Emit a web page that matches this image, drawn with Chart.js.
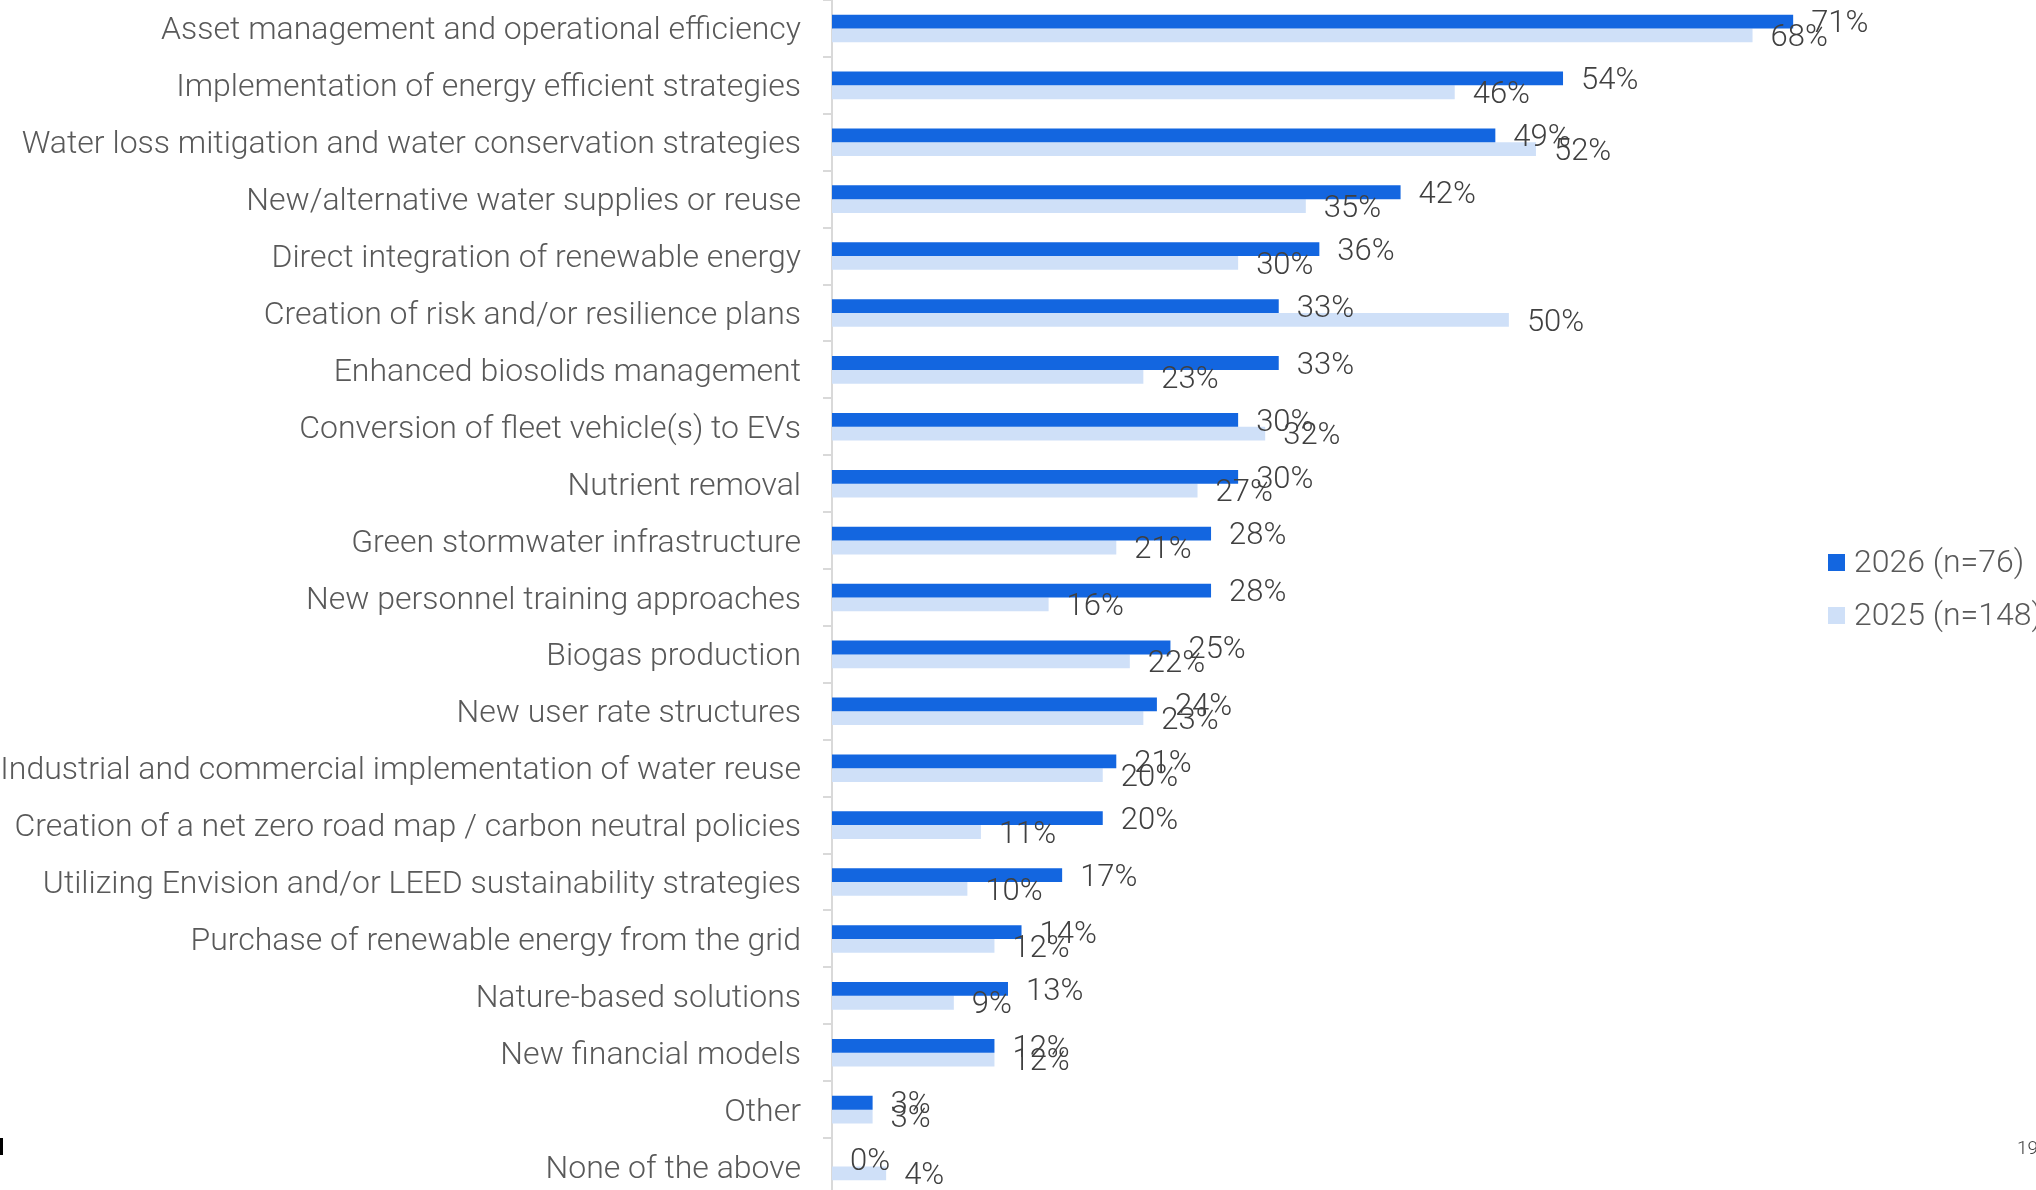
<!DOCTYPE html>
<html><head><meta charset="utf-8">
<script src="https://cdn.jsdelivr.net/npm/chart.js@4.4.1/dist/chart.umd.min.js"></script>
<style>
html,body{margin:0;padding:0;background:#fff;overflow:hidden;width:2036px;height:1190px}
#wrap{position:relative;width:2036px;height:1190px;overflow:hidden}
#c{position:absolute;left:0;top:0}
#pg{position:absolute;left:2017px;top:1136px;font:300 19px Roboto;color:#404040}
#mk{position:absolute;left:0;top:1138px;width:3px;height:17px;background:#000}
</style></head><body>
<div id="wrap"><canvas id="c" width="2036" height="1195"></canvas><div id="mk"></div><div id="pg">19</div></div>
<script>
const categories = [
  'Asset management and operational efficiency',
  'Implementation of energy efficient strategies',
  'Water loss mitigation and water conservation strategies',
  'New/alternative water supplies or reuse',
  'Direct integration of renewable energy',
  'Creation of risk and/or resilience plans',
  'Enhanced biosolids management',
  'Conversion of fleet vehicle(s) to EVs',
  'Nutrient removal',
  'Green stormwater infrastructure',
  'New personnel training approaches',
  'Biogas production',
  'New user rate structures',
  'Industrial and commercial implementation of water reuse',
  'Creation of a net zero road map / carbon neutral policies',
  'Utilizing Envision and/or LEED sustainability strategies',
  'Purchase of renewable energy from the grid',
  'Nature-based solutions',
  'New financial models',
  'Other',
  'None of the above'
];
const values2026 = [71,54,49,42,36,33,33,30,30,28,28,25,24,21,20,17,14,13,12,3,0];
const values2025 = [68,46,52,35,30,50,23,32,27,21,16,22,23,20,11,10,12,9,12,3,4];
const seriesLabels = ['2026 (n=76)','2025 (n=148)'];
const seriesColors = ['#1366e0','#cfe0f8'];
const axisMax = 80;

const FONT = 'Roboto';

const valueLabels = {
  id:'valueLabels',
  afterDatasetsDraw(chart){
    const ctx = chart.ctx;
    ctx.save();
    ctx.font = '300 31px ' + FONT;
    ctx.fillStyle = '#404040';
    ctx.textAlign = 'left';
    ctx.textBaseline = 'middle';
    chart.data.datasets.forEach((ds,i)=>{
      const meta = chart.getDatasetMeta(i);
      meta.data.forEach((bar,j)=>{
        ctx.fillText(ds.data[j] + '%', bar.x + 18, bar.y + 3);
      });
    });
    ctx.restore();
  }
};

const sideLegend = {
  id:'sideLegend',
  afterDraw(chart){
    const ctx = chart.ctx;
    ctx.save();
    ctx.font = '300 32px ' + FONT;
    ctx.textBaseline = 'middle';
    ctx.textAlign = 'left';
    chart.data.datasets.forEach((ds,i)=>{
      const cy = 562 + i*53;
      ctx.fillStyle = ds.backgroundColor;
      ctx.fillRect(1828, cy-8, 17, 17);
      ctx.fillStyle = '#595959';
      ctx.fillText(ds.label, 1854, cy+2);
    });
    ctx.restore();
  }
};

function draw(){
  new Chart(document.getElementById('c'), {
    type:'bar',
    data:{
      labels: categories,
      datasets:[
        {label:seriesLabels[0], data:values2026, backgroundColor:seriesColors[0]},
        {label:seriesLabels[1], data:values2025, backgroundColor:seriesColors[1]}
      ]
    },
    options:{
      indexAxis:'y',
      responsive:false,
      devicePixelRatio:1,
      animation:false,
      events:[],
      categoryPercentage:0.485,
      barPercentage:1,
      layout:{padding:{left:0,right:121,top:0,bottom:0}},
      plugins:{legend:{display:false},tooltip:{enabled:false}},
      scales:{
        x:{display:false,min:0,max:axisMax},
        y:{
          grid:{display:true,drawOnChartArea:false,offset:true,tickLength:9,color:'#d9d9d9',lineWidth:2},
          border:{display:true,color:'#d9d9d9',width:2},
          ticks:{color:'#595959',font:{family:FONT,weight:300,size:32},padding:22,autoSkip:false,labelOffset:3},
          afterFit(s){ s.width = 832; s.paddingTop = 0; s.paddingBottom = 0; }
        }
      }
    },
    plugins:[valueLabels, sideLegend]
  });
}
if (document.fonts && document.fonts.load) {
  Promise.all([document.fonts.load('300 32px Roboto'), document.fonts.load('400 32px Roboto')]).then(draw, draw);
} else draw();
</script>
</body></html>
